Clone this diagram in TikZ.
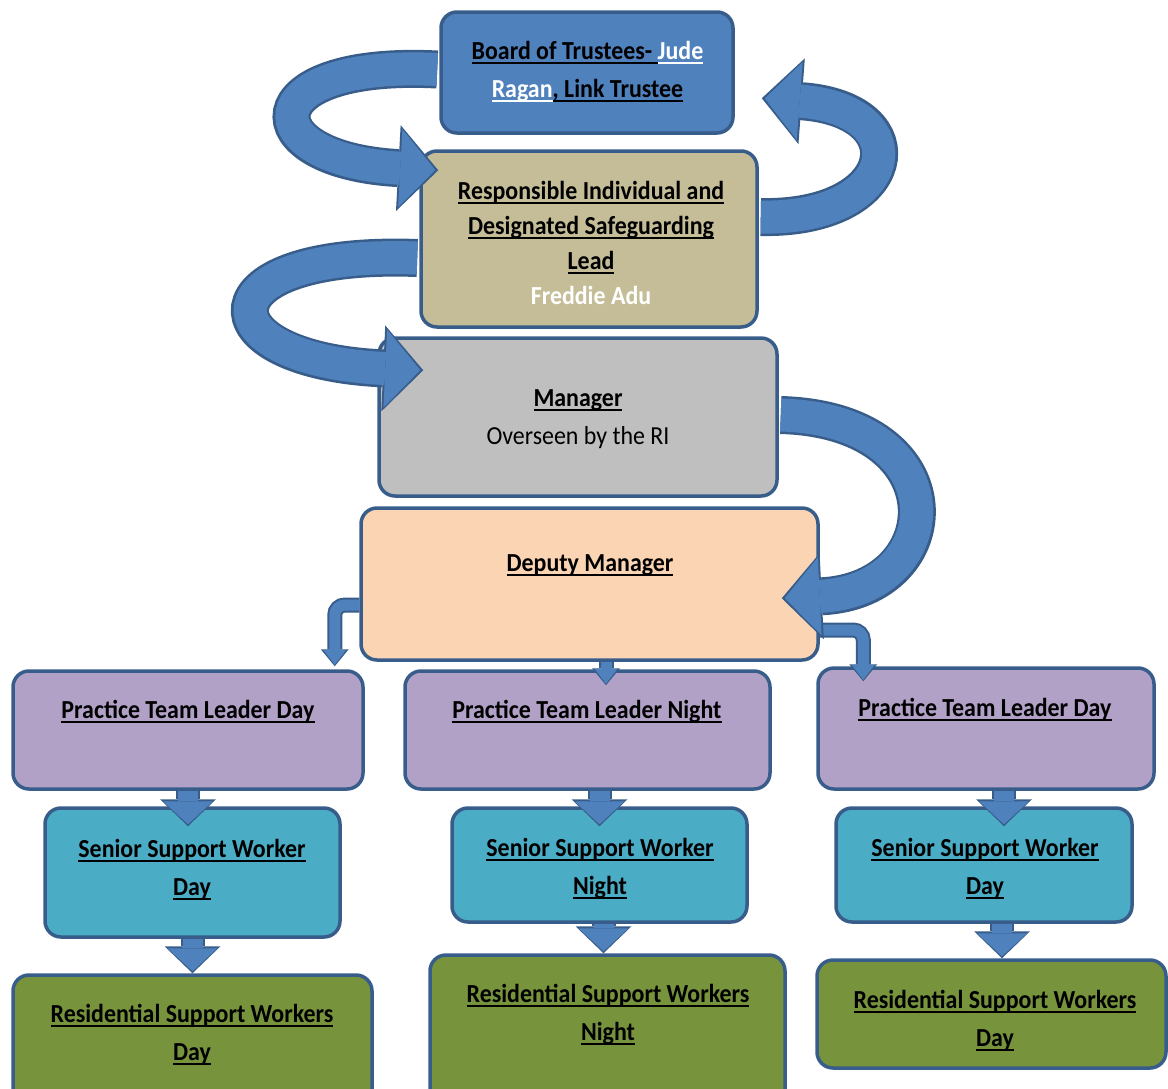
\documentclass[tikz,border=0pt]{standalone}
\usepackage{fontspec}
\setmainfont{Carlito}[FakeStretch=0.92]
\usetikzlibrary{arrows.meta,calc}

\newsavebox{\undlbox}
\newcommand{\undl}[1]{\sbox{\undlbox}{#1}\rlap{\vrule height -2.6pt depth 4.6pt width \wd\undlbox}\usebox{\undlbox}}

\definecolor{boxline}{HTML}{385D8A}
\definecolor{arrblue}{HTML}{4F81BD}
\definecolor{arrline}{HTML}{385D8A}
\definecolor{boardblue}{HTML}{4F81BD}
\definecolor{ritan}{HTML}{C4BD97}
\definecolor{mgrgray}{HTML}{BFBFBF}
\definecolor{deppeach}{HTML}{FBD4B4}
\definecolor{ptllilac}{HTML}{B2A1C7}
\definecolor{sswteal}{HTML}{4BACC6}
\definecolor{rswgreen}{HTML}{77933C}

\begin{document}
\begin{tikzpicture}[x=1pt,y=-1pt]
  \tikzstyle{box}=[draw=boxline,line width=3.5pt,rounded corners=16pt,inner sep=0pt]
  \tikzstyle{txt}=[font=\bfseries\fontsize{26}{38}\selectfont,align=center,inner sep=0pt]
  \tikzstyle{bandback}=[draw=arrline,line width=38pt,-{Triangle[length=40pt,width=86pt,line width=0pt]}]
  \tikzstyle{bandfront}=[draw=arrblue,line width=33pt,shorten >=3pt,-{Triangle[length=35pt,width=78pt,line width=0pt]}]
  \tikzstyle{colback}=[draw=arrline,line width=24pt,-{Triangle[length=27pt,width=56pt,line width=0pt]}]
  \tikzstyle{colfront}=[draw=arrblue,line width=20pt,shorten >=2pt,-{Triangle[length=23pt,width=50pt,line width=0pt]}]
  \tikzstyle{elbback}=[draw=arrline,line width=15pt,rounded corners=10pt,-{Triangle[length=17pt,width=28pt,line width=0pt]}]
  \tikzstyle{elbfront}=[draw=arrblue,line width=11pt,rounded corners=10pt,shorten >=1.5pt,-{Triangle[length=15pt,width=23pt,line width=0pt]}]

  \useasboundingbox (0,0) rectangle (1168,1088);
  \clip (0,0) rectangle (1168,1088);

  % boxes
  \node[box,fill=boardblue,minimum width=292pt,minimum height=121pt] (board) at (587,72.5) {};
  \node[box,fill=ritan,minimum width=336pt,minimum height=176pt] (ri) at (589,239) {};
  \node[box,fill=mgrgray,minimum width=398pt,minimum height=158pt] (mgr) at (578,417) {};
  \node[box,fill=deppeach,minimum width=457pt,minimum height=152pt] (dep) at (589.5,584) {};
  \node[box,fill=ptllilac,minimum width=350pt,minimum height=118pt] (ptl1) at (188,730) {};
  \node[box,fill=ptllilac,minimum width=365pt,minimum height=118pt] (ptl2) at (587.5,730) {};
  \node[box,fill=ptllilac,minimum width=336pt,minimum height=121pt] (ptl3) at (986,728.5) {};
  \node[box,fill=sswteal,minimum width=295pt,minimum height=129pt] (ssw1) at (192.5,872.5) {};
  \node[box,fill=sswteal,minimum width=295pt,minimum height=114pt] (ssw2) at (599.5,865) {};
  \node[box,fill=sswteal,minimum width=296pt,minimum height=114pt] (ssw3) at (984,865) {};
  \node[box,fill=rswgreen,minimum width=359pt,minimum height=130pt] (rsw1) at (192.5,1040) {};
  \node[box,fill=rswgreen,minimum width=355pt,minimum height=150pt] (rsw2) at (607.5,1030) {};
  \node[box,fill=rswgreen,minimum width=349pt,minimum height=108pt] (rsw3) at (991.5,1014) {};

  % texts
  \node[txt] (boardtxt) at (587.5,72) {\undl{Board of Trustees- }{\color{white}\undl{Jude}}\\{\color{white}\undl{Ragan}}\undl{, Link Trustee}};
  \node[txt,font=\bfseries\fontsize{26}{35}\selectfont] (ritxt) at (591,243) {\undl{Responsible Individual and}\\\undl{Designated Safeguarding}\\\undl{Lead}\\{\color{white}Freddie Adu}};
  \node[txt] (mgrtxt) at (578,419) {\undl{Manager}\\{\mdseries Overseen by the RI}};
  \node[txt] (deptxt) at (590,565) {\undl{Deputy Manager}};
  \node[txt] (ptl1txt) at (188,712) {\undl{Practice Team Leader Day}};
  \node[txt] (ptl2txt) at (587,712) {\undl{Practice Team Leader Night}};
  \node[txt] (ptl3txt) at (985,710) {\undl{Practice Team Leader Day}};
  \node[txt] (ssw1txt) at (192,869.5) {\undl{Senior Support Worker}\\\undl{Day}};
  \node[txt] (ssw2txt) at (600,868.5) {\undl{Senior Support Worker}\\\undl{Night}};
  \node[txt] (ssw3txt) at (985,868.5) {\undl{Senior Support Worker}\\\undl{Day}};
  \node[txt] (rsw1txt) at (192,1035) {\undl{Residential Support Workers}\\\undl{Day}};
  \node[txt] (rsw2txt) at (608,1015) {\undl{Residential Support Workers}\\\undl{Night}};
  \node[txt] (rsw3txt) at (995,1020.5) {\undl{Residential Support Workers}\\\undl{Day}};

  % arrow ends
  \coordinate (tipA) at ($(ri.north west)+(19,21)$);
  \coordinate (tipB) at ($(board.north east)+(27,88)$);
  \coordinate (tipC) at ($(mgr.north west)+(46,34)$);
  \coordinate (tipD) at ($(dep.north east)+(-38,92)$);
  \coordinate (tipL) at ($(ptl1.north east)+(-30,-3)$);
  \coordinate (tipR) at ($(ptl3.north west)+(47,15)$);
  \coordinate (tipM) at ($(ptl2.north)+(18.5,16)$);

  % down the columns
  \draw[colback] (ptl1.south) -- ($(ptl1.south |- ssw1.north)+(0,20)$);
  \draw[colfront] (ptl1.south) -- ($(ptl1.south |- ssw1.north)+(0,20)$);
  \draw[colback] (ssw1.south) -- (ssw1.south |- rsw1.north);
  \draw[colfront] (ssw1.south) -- (ssw1.south |- rsw1.north);
  \draw[colback] (ssw2.north |- ptl2.south) -- ($(ssw2.north)+(0,20)$);
  \draw[colfront] (ssw2.north |- ptl2.south) -- ($(ssw2.north)+(0,20)$);
  \draw[colback] ($(ssw2.south)+(4,0)$) -- ($(ssw2.south |- rsw2.north)+(4,0)$);
  \draw[colfront] ($(ssw2.south)+(4,0)$) -- ($(ssw2.south |- rsw2.north)+(4,0)$);
  \draw[colback] ($(ptl3.south)+(18,0)$) -- ($(ptl3.south |- ssw3.north)+(18,20)$);
  \draw[colfront] ($(ptl3.south)+(18,0)$) -- ($(ptl3.south |- ssw3.north)+(18,20)$);
  \draw[colback] ($(ssw3.south)+(18,0)$) -- ($(ssw3.south |- rsw3.north)+(18,0)$);
  \draw[colfront] ($(ssw3.south)+(18,0)$) -- ($(ssw3.south |- rsw3.north)+(18,0)$);

  % deputy to the leaders
  \draw[elbback] (tipM |- dep.south) -- (tipM);
  \draw[elbfront] (tipM |- dep.south) -- (tipM);
  \draw[elbback] ($(dep.west)+(0,21)$) -| (tipL);
  \draw[elbfront] ($(dep.west)+(0,21)$) -| (tipL);
  \draw[elbback] ($(dep.east)+(0,46)$) -| (tipR);
  \draw[elbfront] ($(dep.east)+(0,46)$) -| (tipR);

  % curved arrows
  \draw[bandback] ($(board.west)+(-2,-3)$) .. controls (250,60) and (250,160) .. (tipA);
  \draw[bandfront] ($(board.west)+(-2,-3)$) .. controls (250,60) and (250,160) .. (tipA);
  \draw[bandback] ($(ri.east)+(2,-22)$) .. controls (900,220) and (920,110) .. (tipB);
  \draw[bandfront] ($(ri.east)+(2,-22)$) .. controls (900,220) and (920,110) .. (tipB);
  \draw[bandback] ($(ri.west)+(-2,19)$) .. controls (200,250) and (200,360) .. (tipC);
  \draw[bandfront] ($(ri.west)+(-2,19)$) .. controls (200,250) and (200,360) .. (tipC);
  \draw[bandback] ($(mgr.east)+(2,-2)$) .. controls (960,420) and (950,590) .. (tipD);
  \draw[bandfront] ($(mgr.east)+(2,-2)$) .. controls (960,420) and (950,590) .. (tipD);
\end{tikzpicture}
\end{document}
